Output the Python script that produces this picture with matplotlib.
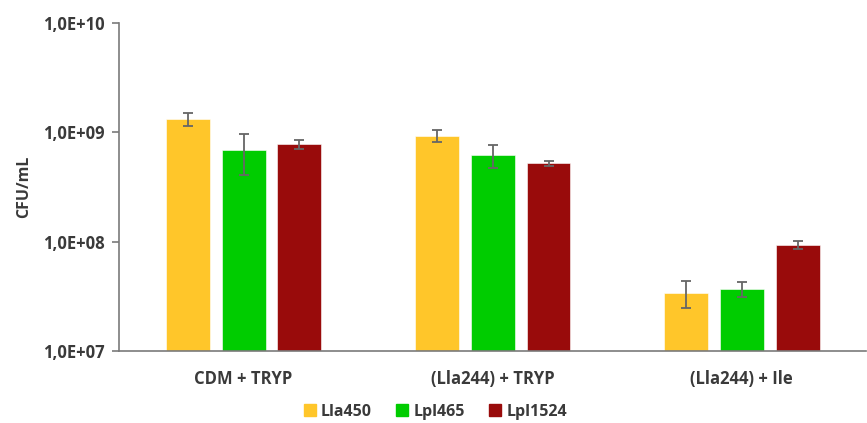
import numpy as np
import matplotlib
matplotlib.use("Agg")
import matplotlib.pyplot as plt

plt.rcParams['font.family'] = ['Open Sans', 'DejaVu Sans']

# data
categories = ['CDM + TRYP', '(Lla244) + TRYP', '(Lla244) + Ile']
strains = ['Lla450', 'Lpl465', 'Lpl1524']
lla450 = [1.32e9, 9.3e8, 3.4e7]
lpl465 = [6.9e8, 6.2e8, 3.7e7]
lpl1524 = [7.8e8, 5.2e8, 9.35e7]
lla450_err = [1.7e8, 1.15e8, 0.93e7]
lpl465_err = [2.8e8, 1.5e8, 0.6e7]
lpl1524_err = [0.7e8, 0.28e8, 0.8e7]
colors = ['#FFC62A', '#00CC00', '#990B0B']
ytick_labels = ['1,0E+07', '1,0E+08', '1,0E+09', '1,0E+10']

values = [lla450, lpl465, lpl1524]
errors = [lla450_err, lpl465_err, lpl1524_err]

text_col = '#3a3a3a'

fig = plt.figure(figsize=(8.67, 4.23), dpi=100)
ax = fig.add_axes([0.1373, 0.1702, 0.862, 0.7754])

x = np.arange(len(categories))
width = 0.176
step = 0.224
for i, (vals, errs) in enumerate(zip(values, errors)):
    pos = x + (i - 1) * step
    ax.bar(pos, vals, width, color=colors[i], label=strains[i],
           edgecolor='white', linewidth=0.4, zorder=2)
    ax.errorbar(pos, vals, yerr=errs, fmt='none', ecolor='#666666',
                elinewidth=1.3, capsize=3.5, capthick=1.3, zorder=3)

ax.set_yscale('log')
ax.set_ylim(1e7, 1e10)
ax.set_xlim(-0.5, 2.5)
ax.set_yticks([1e7, 1e8, 1e9, 1e10])
ax.set_yticklabels(ytick_labels)
ax.yaxis.set_minor_locator(matplotlib.ticker.NullLocator())
ax.set_xticks(x)
ax.set_xticklabels(categories)

for s in ['top', 'right']:
    ax.spines[s].set_visible(False)
for s in ['left', 'bottom']:
    ax.spines[s].set_color('#7a7a7a')
    ax.spines[s].set_linewidth(1.2)
ax.tick_params(axis='y', length=5, width=1.2, color='#7a7a7a',
               labelsize=12, labelcolor=text_col, pad=5)
ax.tick_params(axis='x', length=0, labelsize=12, labelcolor=text_col, pad=14)
for lab in ax.get_xticklabels() + ax.get_yticklabels():
    lab.set_fontweight('bold')

ax.set_ylabel('CFU/mL', fontsize=11.5, color=text_col, fontweight='bold', labelpad=8)

handles = [plt.Line2D([], [], marker='s', linestyle='none', markersize=8.5,
                      markerfacecolor=c, markeredgecolor=c) for c in colors]
fig.legend(handles, strains, loc='center', bbox_to_anchor=(0.5, 0.026),
           ncol=3, frameon=False, handletextpad=0.1, columnspacing=1.3,
           handlelength=1.2, prop={'size': 11.5, 'weight': 'bold'},
           labelcolor=text_col)

fig.savefig('out.png', dpi=100)
